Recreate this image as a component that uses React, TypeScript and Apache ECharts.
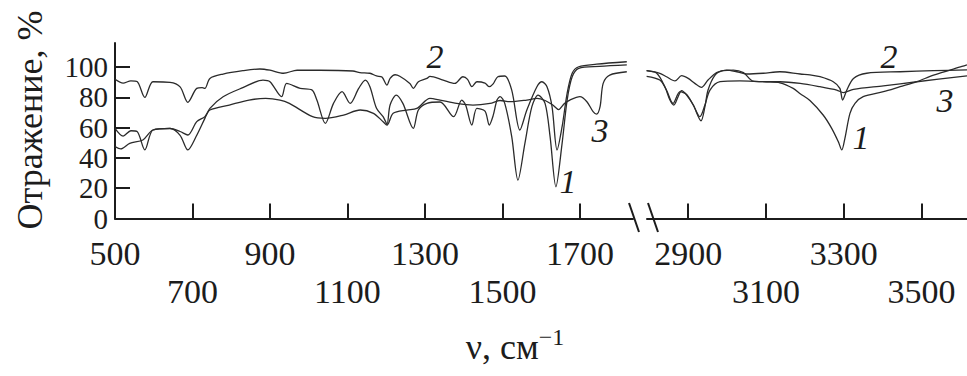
import React, { useEffect, useRef } from "react";
import * as echarts from "echarts";

// ---- Data (wavenumber, cm^-1  /  reflection, %) ----
const c1LeftNu = [500,521,541,557,577,598,642,668,688,709,732,745,779,830,882,900,930,943,978,1008,1021,1043,1064,1086,1107,1129,1146,1158,1175,1192,1202,1210,1226,1243,1270,1283,1305,1339,1374,1395,1405,1421,1434,1455,1466,1476,1486,1494,1506,1524,1540,1558,1576,1592,1610,1623,1638,1654,1667,1680,1697,1750,1821];
const c1LeftR = [59.6,54.5,58,57.5,45.3,58.5,59.6,55,45.3,54,66.2,72.8,80.5,86.5,91.5,90.4,80.5,89.3,86,85,78.3,62.9,76.1,83.8,76.1,86,91.5,87.1,72.8,67.3,62.5,75,81.6,76.1,59.6,71.7,76.1,77,67.3,78.3,75,61.8,72.8,71,61.8,68,78.3,80.5,76.1,54.1,25.4,49.7,73.9,81.6,76.1,54.1,21,49.7,78.3,93.7,99.3,100.5,101.5];

const c2LeftNu = [500,521,541,557,577,598,642,668,688,711,725,732,745,779,830,874,900,935,970,1029,1114,1132,1158,1175,1189,1202,1210,1223,1235,1261,1270,1283,1305,1313,1347,1377,1398,1410,1421,1434,1455,1466,1476,1488,1506,1524,1545,1563,1589,1602,1615,1628,1641,1654,1667,1680,1697,1743,1821];
const c2LeftR = [92,89.5,91,90.5,80,90.4,90,87,76.8,86,86.5,86,92.6,95.5,97.7,98.8,98,96,98,98,97.5,96.4,96,94.2,93.5,88.2,92.6,95,94,89.3,86,90.4,92.6,94,91.5,89.3,93.7,92,87.1,90.4,89.5,87.1,89,93.7,94.2,84.9,58.5,71.7,87.1,90.4,87.1,73.9,45.3,60.7,82.7,96,100.3,102,103.6];

const c3LeftNu = [500,515,538,572,598,642,668,688,711,732,745,795,846,889,926,950,1010,1043,1090,1133,1167,1192,1202,1218,1253,1279,1313,1339,1382,1424,1468,1494,1519,1563,1589,1610,1630,1645,1660,1674,1700,1718,1734,1743,1752,1760,1777,1821];
const c3LeftR = [47.5,46,49.7,51.9,58.5,59.5,57.5,55.2,64,67.3,71.7,75,78.3,79.4,78.3,76.1,67.3,66.2,68.4,71.7,69.5,64,61.8,69.5,71.7,72.8,79.4,78.3,76.1,75,76.1,78,77.2,78.3,79.4,78,75,72,76,78.3,80.5,77.2,70.6,69,73.9,89.3,94.8,97];

const c1RightNu = [2793,2819,2840,2853,2863,2874,2883,2896,2913,2933,2943,2951,2969,2990,3016,3042,3067,3102,3136,3170,3188,3213,3247,3269,3286,3295,3303,3316,3329,3350,3402,3445,3488,3531,3604,3617];
const c1RightR = [97.7,96,87.1,78.3,75,80.5,84.5,81.6,75,64.6,73.9,84.9,94.8,97.7,98.1,96.4,90.8,90.4,89.7,86,82.5,78,68.4,59.6,50.8,45.3,53,69.5,76.1,80.5,83.8,87.1,90.4,94.8,100.5,101.5];

const c2RightNu = [2793,2827,2844,2866,2883,2900,2917,2934,2951,2973,2999,3025,3050,3093,3136,3188,3213,3239,3273,3290,3297,3308,3325,3359,3445,3531,3617];
const c2RightR = [97.7,96,93.7,90.9,94.4,92.6,89.3,86.7,91.5,96.4,98.1,97,95.5,96,97,95.5,95,93.7,90.4,86,78.3,84.9,92.6,96,97,97.7,98.2];

const c3RightNu = [2793,2827,2844,2861,2879,2896,2913,2930,2943,2956,2982,3033,3102,3136,3188,3239,3282,3299,3325,3402,3488,3617];
const c3RightR = [94,91.5,84.9,76.1,83.8,82,75,67.3,75,84.9,90.4,91,90.4,90.4,89.3,87.1,84.9,83.2,85.4,87.7,90.4,94.3];

const yTicks = [0, 20, 40, 60, 80, 100];
const leftXTicks = [500, 700, 900, 1100, 1300, 1500, 1700];
const rightXTicks = [2900, 3100, 3300, 3500];

const yTitle = "Отражение, %";
const curveNames = ["1", "2", "3"];

const FONT = "'Liberation Serif', 'Times New Roman', serif";
const INK = "#1c1c1c";
const LINE = "#2b2b2b";

function pairs(nu: number[], r: number[]) {
  return nu.map((v, i) => [v, r[i]]);
}

function xLabelFormatter(start: number) {
  return (v: number) => {
    const i = Math.round((v - start) / 200);
    return i % 2 === 0 ? `{u|${v}}` : `{d|${v}}`;
  };
}

export default function App() {
  const ref = useRef<HTMLDivElement>(null);
  useEffect(() => {
    if (!ref.current) return;
    const chart = echarts.init(ref.current, null, { renderer: "svg" });

    const labelRich = {
      u: { fontSize: 34, fontFamily: FONT, color: INK },
      d: { fontSize: 34, fontFamily: FONT, color: INK, padding: [38, 0, 0, 0] },
    };

    const xAxisCommon = {
      type: "value",
      axisLine: { show: true, lineStyle: { color: INK, width: 2 } },
      splitLine: { show: false },
    };

    const lineSeries = (name: string, data: number[][], xi: number) => ({
      name,
      type: "line",
      xAxisIndex: xi,
      yAxisIndex: xi,
      data,
      showSymbol: false,
      smooth: 0.3,
      lineStyle: { color: LINE, width: 1.3 },
    });

    const curveLabel = (text: string, x: number, y: number) => ({
      type: "text",
      x,
      y,
      style: {
        text,
        font: `italic 34px ${FONT}`,
        fill: INK,
        align: "center",
        verticalAlign: "middle",
      },
    });

    chart.setOption({
      animation: false,
      backgroundColor: "#ffffff",
      grid: [
        { left: 115, top: 43, width: 518, height: 175.5 },
        { left: 647, top: 43, width: 320, height: 175.5 },
      ],
      xAxis: [
        {
          ...xAxisCommon,
          gridIndex: 0,
          min: 500,
          max: 1837,
          axisTick: {
            show: true,
            inside: true,
            length: 15,
            lineStyle: { color: INK, width: 2 },
            customValues: leftXTicks.slice(1),
          },
          axisLabel: {
            margin: 18,
            customValues: leftXTicks,
            formatter: xLabelFormatter(500),
            rich: labelRich,
          },
        },
        {
          ...xAxisCommon,
          gridIndex: 1,
          min: 2794,
          max: 3617,
          axisTick: {
            show: true,
            inside: true,
            length: 15,
            lineStyle: { color: INK, width: 2 },
            customValues: rightXTicks,
          },
          axisLabel: {
            margin: 18,
            customValues: rightXTicks,
            formatter: xLabelFormatter(2900),
            rich: labelRich,
          },
        },
      ],
      yAxis: [
        {
          type: "value",
          gridIndex: 0,
          min: 0,
          max: 116,
          axisLine: { show: true, lineStyle: { color: INK, width: 2 } },
          axisTick: {
            show: true,
            inside: true,
            length: 15,
            lineStyle: { color: INK, width: 2 },
            customValues: yTicks.slice(1),
          },
          axisLabel: {
            margin: 7,
            customValues: yTicks,
            fontSize: 29,
            fontFamily: FONT,
            color: INK,
          },
          splitLine: { show: false },
        },
        {
          type: "value",
          gridIndex: 1,
          min: 0,
          max: 116,
          show: false,
          splitLine: { show: false },
        },
      ],
      series: [
        lineSeries(curveNames[0], pairs(c1LeftNu, c1LeftR), 0),
        lineSeries(curveNames[1], pairs(c2LeftNu, c2LeftR), 0),
        lineSeries(curveNames[2], pairs(c3LeftNu, c3LeftR), 0),
        lineSeries(curveNames[0], pairs(c1RightNu, c1RightR), 1),
        lineSeries(curveNames[1], pairs(c2RightNu, c2RightR), 1),
        lineSeries(curveNames[2], pairs(c3RightNu, c3RightR), 1),
      ],
      graphic: [
        {
          type: "text",
          x: 30,
          y: 120,
          rotation: Math.PI / 2,
          style: {
            text: yTitle,
            font: `36px ${FONT}`,
            fill: INK,
            align: "center",
            verticalAlign: "middle",
          },
        },
        {
          type: "text",
          x: 515,
          y: 345,
          style: {
            text: "{a|ν, см}{s|−1}",
            align: "center",
            verticalAlign: "middle",
            rich: {
              a: { fontSize: 36, fontFamily: FONT, fill: INK, color: INK, verticalAlign: "bottom", lineHeight: 40 },
              s: { fontSize: 24, fontFamily: FONT, fill: INK, color: INK, verticalAlign: "top", lineHeight: 40 },
            },
          },
        },
        { type: "line", shape: { x1: 629, y1: 203, x2: 639, y2: 232 }, style: { stroke: INK, lineWidth: 2 } },
        { type: "line", shape: { x1: 648, y1: 203, x2: 658, y2: 232 }, style: { stroke: INK, lineWidth: 2 } },
        curveLabel("2", 435, 56),
        curveLabel("3", 600, 130),
        curveLabel("1", 568, 181),
        curveLabel("2", 889, 56),
        curveLabel("1", 861, 137),
        curveLabel("3", 945, 100),
      ],
    });
    return () => chart.dispose();
  }, []);

  return (
    <div
      ref={ref}
      style={{ position: "absolute", left: 0, top: 0, width: 967, height: 376, background: "#fff" }}
    />
  );
}
